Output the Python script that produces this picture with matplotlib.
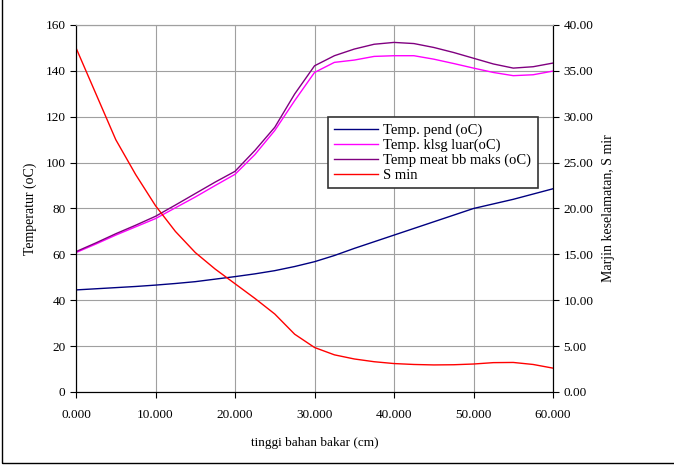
import numpy as np
import matplotlib
matplotlib.use("Agg")
import matplotlib.pyplot as plt
from matplotlib.patches import Rectangle

plt.rcParams["font.family"] = ["Liberation Serif", "DejaVu Serif"]

# tinggi bahan bakar (cm)
x = [0, 2.5, 5, 7.5, 10, 12.5, 15, 17.5, 20, 22.5, 25, 27.5, 30,
     32.5, 35, 37.5, 40, 42.5, 45, 47.5, 50, 52.5, 55, 57.5, 60]

temp_pend = [44.5, 45.0, 45.5, 46.0, 46.6, 47.3, 48.1, 49.2, 50.3, 51.5, 52.9, 54.7, 56.8,
             59.5, 62.6, 65.5, 68.4, 71.3, 74.2, 77.1, 80.0, 82.0, 84.0, 86.3, 88.6]
temp_klsg = [60.8, 64.5, 68.4, 72.0, 75.6, 80.3, 85.0, 90.0, 94.9, 103.5, 114.0, 127.0, 139.3,
             143.7, 144.7, 146.3, 146.6, 146.6, 145.1, 143.2, 141.2, 139.3, 137.9, 138.3, 139.9]
temp_meat = [61.2, 65.0, 69.0, 72.7, 76.6, 81.5, 86.5, 91.5, 96.2, 105.3, 115.4, 129.9, 142.2,
             146.6, 149.5, 151.6, 152.4, 151.9, 150.2, 148.0, 145.5, 143.0, 141.2, 141.8, 143.4]
s_min = [37.5, 32.5, 27.5, 23.7, 20.3, 17.5, 15.2, 13.4, 11.8, 10.2, 8.5, 6.3, 4.85,
         4.05, 3.6, 3.3, 3.1, 3.0, 2.95, 2.97, 3.05, 3.2, 3.22, 3.0, 2.6]

fig = plt.figure(figsize=(6.74, 4.66), dpi=100)
ax = fig.add_axes([0.1128, 0.1588, 0.7077, 0.7876])
ax2 = ax.twinx()

l1, = ax.plot(x, temp_pend, color="#000080", lw=1, label="Temp. pend (oC)")
l2, = ax.plot(x, temp_klsg, color="#FF00FF", lw=1, label="Temp. klsg luar(oC)")
l3, = ax.plot(x, temp_meat, color="#800080", lw=1, label="Temp meat bb maks (oC)")
l4, = ax2.plot(x, s_min, color="#FF0000", lw=1, label="S min")

ax.set_xlim(0, 60)
ax.set_ylim(0, 160)
ax2.set_ylim(0, 40)
ax.set_xticks(np.arange(0, 61, 10))
ax.set_xticklabels([f"{v:.3f}" for v in np.arange(0, 61, 10)])
ax.set_yticks(np.arange(0, 161, 20))
ax2.set_yticks(np.arange(0, 41, 5))
ax2.set_yticklabels([f"{v:.2f}" for v in np.arange(0, 41, 5)])

ax.grid(True, color="#a0a0a0", lw=0.8)
ax.set_axisbelow(True)
for a in (ax, ax2):
    a.tick_params(labelsize=9.5, length=4, width=0.8, direction="out")
    a.spines["top"].set_color("#a0a0a0")
ax.tick_params(axis="x", pad=8)

ax.set_xlabel("tinggi bahan bakar (cm)", fontsize=9.5, labelpad=12)
ax.set_ylabel("Temperatur (oC)", fontsize=10, labelpad=6)
ax2.set_ylabel("Marjin keselamatan, S mir", fontsize=10, labelpad=6)

leg = ax.legend(handles=[l1, l2, l3, l4], loc="upper left",
                bbox_to_anchor=(0.528, 0.749), fontsize=10.5, frameon=True,
                fancybox=False, borderpad=0.45, labelspacing=0.1,
                handlelength=3.0, handletextpad=0.35, borderaxespad=0)
leg.get_frame().set_edgecolor("#333333")
leg.get_frame().set_linewidth(1.2)
leg.get_frame().set_alpha(1)
leg.remove()
ax2.add_artist(leg)

fig.patches.append(Rectangle((0.003, 0.006), 1.2, 1.2, transform=fig.transFigure,
                             fill=False, edgecolor="black", lw=1))

fig.savefig("out.png", dpi=100)
